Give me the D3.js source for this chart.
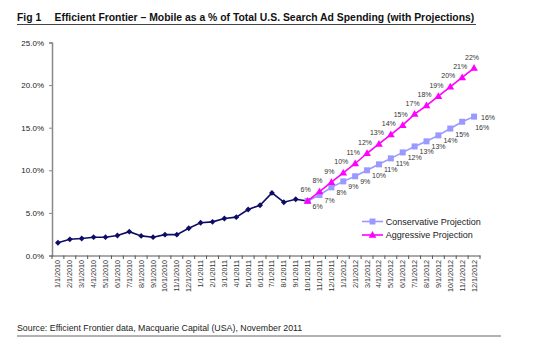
<!DOCTYPE html>
<html><head><meta charset="utf-8">
<script src="https://cdn.jsdelivr.net/npm/d3@7/dist/d3.min.js"></script>
<style>
body{margin:0;background:#fff;}
text{font-family:"Liberation Sans",Arial,sans-serif;}
</style></head>
<body><svg id="c" width="550" height="354"></svg>
<script>
const dates = ["1/1/2010","2/1/2010","3/1/2010","4/1/2010","5/1/2010","6/1/2010","7/1/2010","8/1/2010","9/1/2010","10/1/2010","11/1/2010","12/1/2010",
"1/1/2011","2/1/2011","3/1/2011","4/1/2011","5/1/2011","6/1/2011","7/1/2011","8/1/2011","9/1/2011","10/1/2011","11/1/2011","12/1/2011",
"1/1/2012","2/1/2012","3/1/2012","4/1/2012","5/1/2012","6/1/2012","7/1/2012","8/1/2012","9/1/2012","10/1/2012","11/1/2012","12/1/2012"];
const historical = [1.5,1.9,2.0,2.15,2.15,2.35,2.8,2.3,2.15,2.45,2.45,3.2,3.85,3.95,4.35,4.5,5.4,5.9,7.35,6.25,6.6,6.4];
const projDates = dates.slice(21);
const conservative = [6.4,7.1,8.0,8.7,9.3,10.0,10.7,11.4,12.1,12.8,13.4,14.1,14.9,15.7,16.3];
const aggressive = [6.4,7.5,8.6,9.7,10.8,12.0,13.1,14.2,15.3,16.6,17.6,18.7,19.8,20.9,22.0];
const yTicks = [0,5,10,15,20,25];
const seriesNames = ["Conservative Projection","Aggressive Projection"];

const svg = d3.select("#c");
const x = d3.scaleBand().domain(dates).range([52,480]);
const y = d3.scaleLinear().domain([0,25]).range([255.5,42.5]);
const cx = d => x(d) + x.bandwidth()/2;

// title
svg.append("text").attr("x",17).attr("y",20.7).attr("font-size",10.4).attr("font-weight","bold").attr("fill","#111").text("Fig 1");
svg.append("text").attr("x",54.5).attr("y",20.7).attr("font-size",10.4).attr("font-weight","bold").attr("fill","#111")
  .text("Efficient Frontier \u2013 Mobile as a % of Total U.S. Search Ad Spending (with Projections)");
svg.append("line").attr("x1",17).attr("x2",476).attr("y1",24.5).attr("y2",24.5).attr("stroke","#444").attr("stroke-width",1.2);

// source
svg.append("text").attr("x",17).attr("y",330.5).attr("font-size",8.8).attr("fill","#222")
  .text("Source: Efficient Frontier data, Macquarie Capital (USA), November 2011");
svg.append("line").attr("x1",17).attr("x2",501).attr("y1",336).attr("y2",336).attr("stroke","#666").attr("stroke-width",1.2);

// y axis
const ya = svg.append("g").attr("transform","translate(52,0)")
  .call(d3.axisLeft(y).tickValues(yTicks).tickSize(3).tickPadding(5).tickFormat(d=>d3.format(".1f")(d)+"%"));
ya.select(".domain").attr("stroke","#888").attr("stroke-width",1.5);
ya.selectAll(".tick line").attr("stroke","#888");
ya.selectAll("text").attr("font-size",8).attr("fill","#222").attr("font-family","Liberation Sans, Arial, sans-serif");

// x axis
const xa = svg.append("g").attr("transform","translate(0,255.5)")
  .call(d3.axisBottom(x).tickSize(0).tickSizeOuter(0));
xa.select(".domain").attr("stroke","#555").attr("stroke-width",1);
xa.selectAll(".tick text").attr("font-size",7.2).attr("fill","#333").attr("font-family","Liberation Sans, Arial, sans-serif")
  .attr("transform","rotate(-90)").attr("text-anchor","end").attr("x",-4.5).attr("y",0).attr("dy","0.35em");
// tick marks between categories
xa.selectAll(".btick").data(d3.range(dates.length+1)).enter().append("line")
  .attr("x1",i=>52+i*x.step()).attr("x2",i=>52+i*x.step()).attr("y1",0).attr("y2",3.5)
  .attr("stroke","#555");

const line = d3.line().x(d=>cx(d[0])).y(d=>y(d[1]));

// historical
const hData = historical.map((v,i)=>[dates[i],v]);
svg.append("path").attr("d",line(hData)).attr("fill","none").attr("stroke","#0d0d66").attr("stroke-width",1.6);
svg.selectAll(".hd").data(hData).enter().append("path")
  .attr("d",d3.symbol(d3.symbolDiamond2? d3.symbolDiamond2 : d3.symbolDiamond,22)())
  .attr("transform",d=>`translate(${cx(d[0])},${y(d[1])})`).attr("fill","#0d0d66");

// conservative
const cData = conservative.map((v,i)=>[projDates[i],v]);
const cColor = "#9999ff", aColor = "#ff00ff";
svg.append("path").attr("d",line(cData)).attr("fill","none").attr("stroke",cColor).attr("stroke-width",1.6);
svg.selectAll(".cs").data(cData).enter().append("rect")
  .attr("x",d=>cx(d[0])-3).attr("y",d=>y(d[1])-3).attr("width",6).attr("height",6).attr("fill",cColor);

// aggressive
const aData = aggressive.map((v,i)=>[projDates[i],v]);
svg.append("path").attr("d",line(aData)).attr("fill","none").attr("stroke",aColor).attr("stroke-width",1.6);
const tri = d3.symbol(d3.symbolTriangle,26)();
svg.selectAll(".at").data(aData).enter().append("path").attr("d",tri)
  .attr("transform",d=>`translate(${cx(d[0])},${y(d[1])+0.5})`).attr("fill",aColor);

// labels
const fmt = v => d3.format(".0f")(v)+"%";
svg.selectAll(".cl").data(cData).enter().append("text")
  .attr("x",(d,i)=> cx(d[0]) + (i===cData.length-1 ? 7 : (i===cData.length-2 ? 13 : 5)))
  .attr("y",(d,i)=> y(d[1]) + (i===cData.length-1 ? 3 : 8))
  .attr("font-size",7).attr("fill","#333").text(d=>fmt(d[1]));
svg.selectAll(".al").data(aData).enter().append("text")
  .attr("x",d=>cx(d[0])-2).attr("y",d=>y(d[1])-8.5).attr("text-anchor","middle")
  .attr("font-size",7).attr("fill","#333").text(d=>fmt(d[1]));

// legend
const lg = svg.append("g");
const ly = [221.5,235];
seriesNames.forEach((n,i)=>{
  const col = i===0? cColor : aColor;
  lg.append("line").attr("x1",362).attr("x2",383).attr("y1",ly[i]).attr("y2",ly[i]).attr("stroke",col).attr("stroke-width",1.6);
  if(i===0) lg.append("rect").attr("x",369.5).attr("y",ly[i]-3).attr("width",6).attr("height",6).attr("fill",col);
  else lg.append("path").attr("d",tri).attr("transform",`translate(372.5,${ly[i]+0.5})`).attr("fill",col);
  lg.append("text").attr("x",385.7).attr("y",ly[i]+3).attr("font-size",9).attr("fill","#222").text(n);
});
</script></body></html>
